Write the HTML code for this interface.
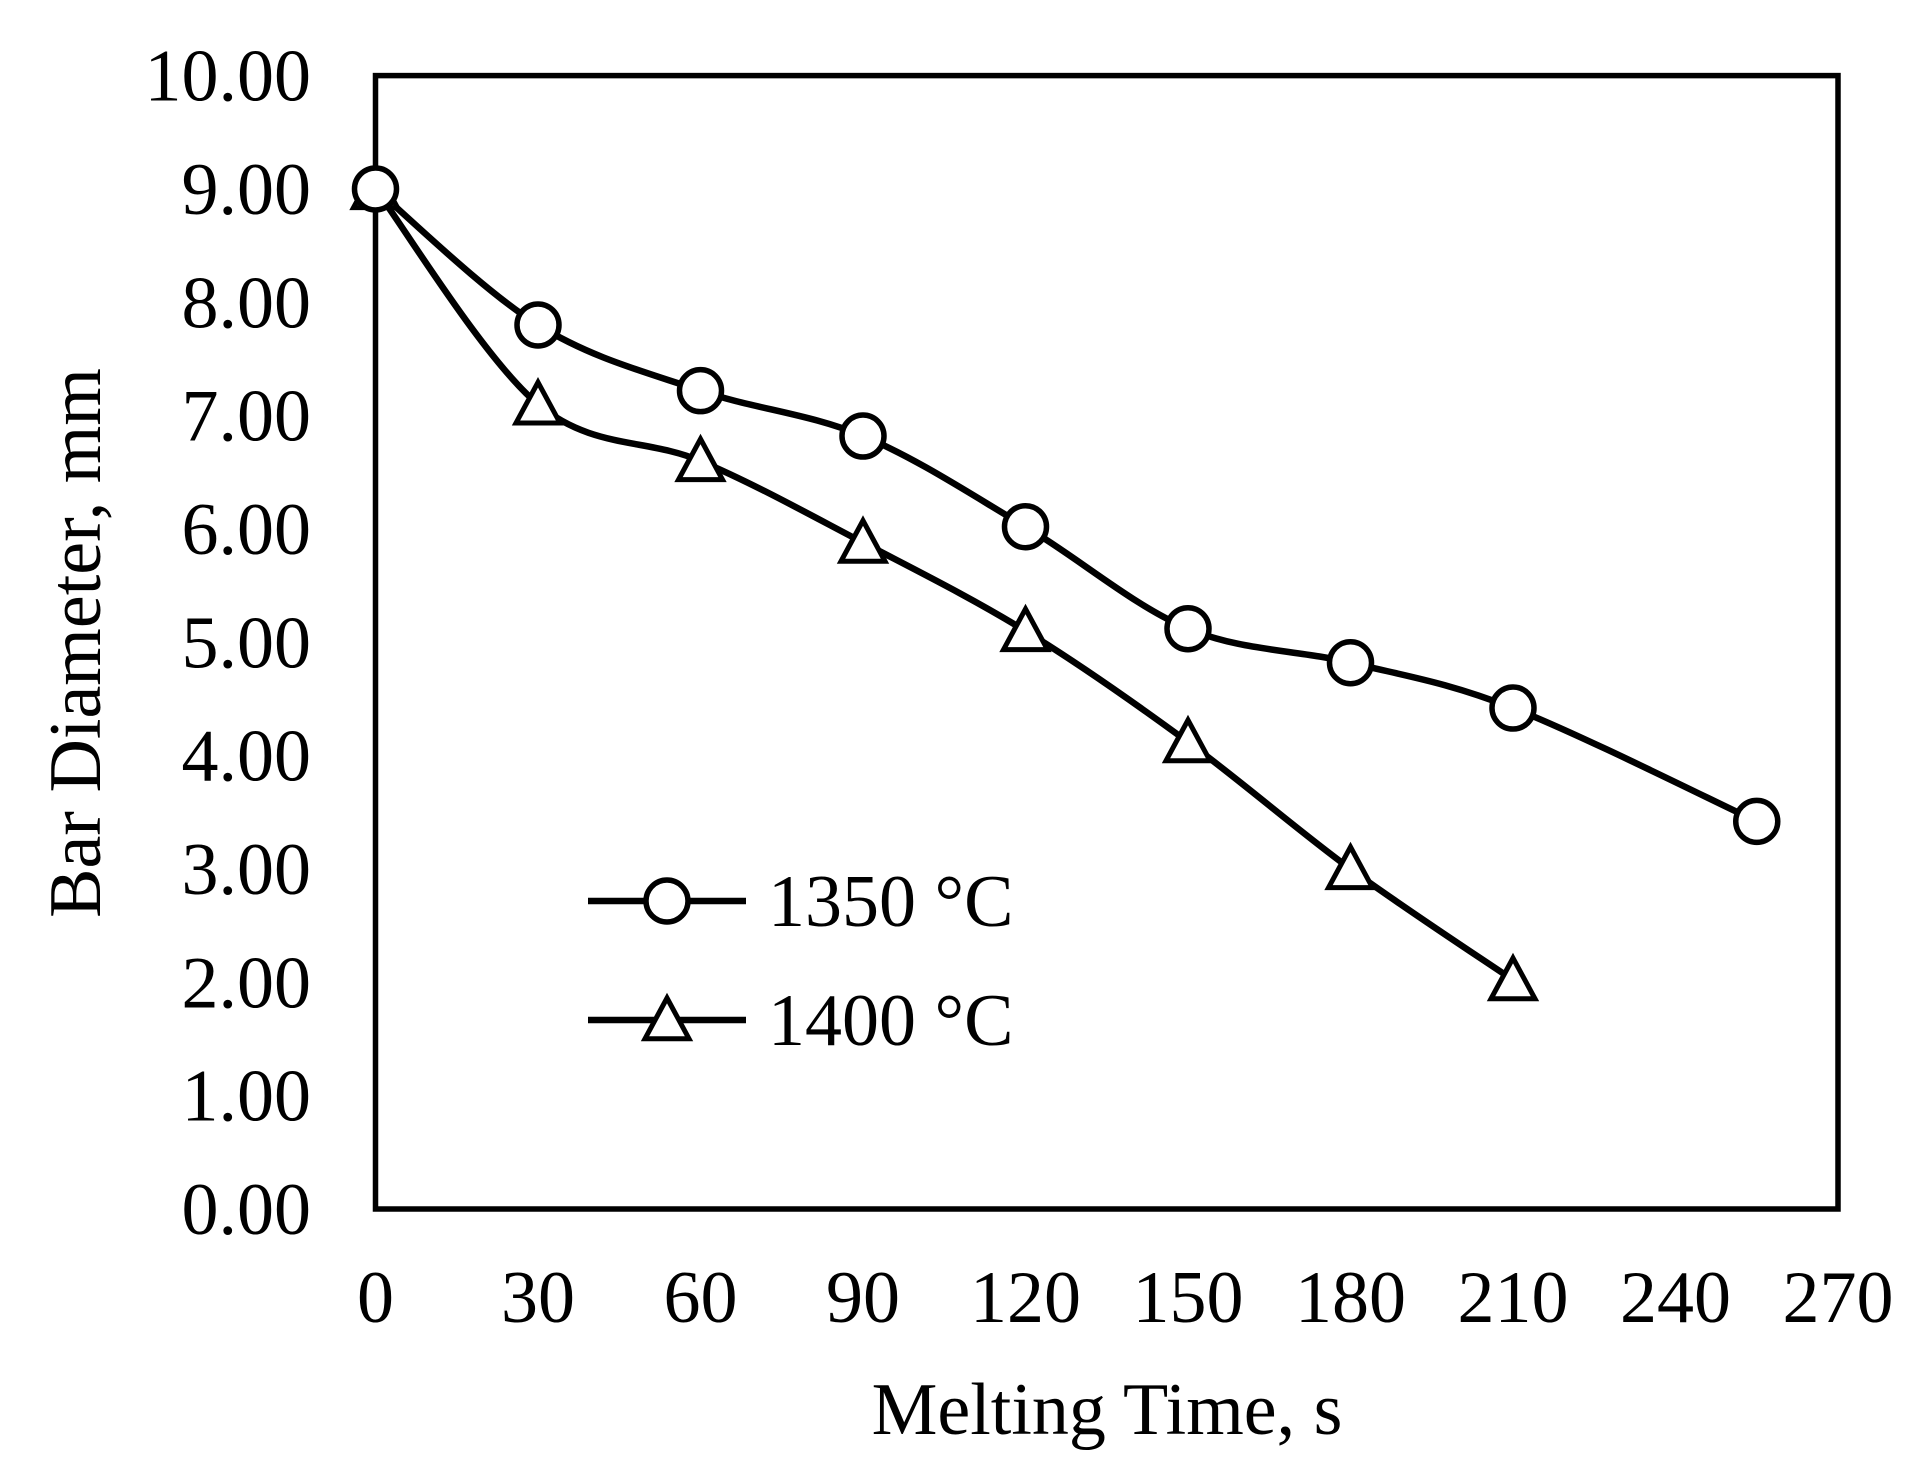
<!DOCTYPE html>
<html><head><meta charset="utf-8"><style>
html,body{margin:0;padding:0;background:#fff}
svg{display:block}
text{font-family:"Liberation Serif",serif;fill:#000}
</style></head><body>
<svg id="chart" width="1908" height="1467" viewBox="0 0 1908 1467" xmlns="http://www.w3.org/2000/svg">
<g id="axes"></g>
<g id="series"></g>
<g id="legend"></g>
</svg>
<script>
const xTicks = [0,30,60,90,120,150,180,210,240,270];
const yTicks = [0,1,2,3,4,5,6,7,8,9,10];
const times1350 = [0,30,60,90,120,150,180,210,255];
const dia1350 = [9.0,7.8,7.22,6.82,6.02,5.12,4.82,4.42,3.42];
const times1400 = [0,30,60,90,120,150,180,210];
const dia1400 = [9.0,7.1,6.6,5.88,5.1,4.12,3.0,2.02];
const seriesNames = ["1350 °C","1400 °C"];

const L=375.5,R=1838,T=75.6,B=1209;
const xMin=0,xMax=270,yMin=0,yMax=10;
const sx=v=>L+(v-xMin)/(xMax-xMin)*(R-L);
const sy=v=>B-(v-yMin)/(yMax-yMin)*(B-T);
const NS="http://www.w3.org/2000/svg";
function mk(tag,attrs,parent){const e=document.createElementNS(NS,tag);for(const k in attrs)e.setAttribute(k,attrs[k]);parent.appendChild(e);return e;}
const axes=document.getElementById('axes'),ser=document.getElementById('series'),leg=document.getElementById('legend');

let frame=mk('rect',{x:L,y:T,width:R-L,height:B-T,fill:'none',stroke:'#000','stroke-width':5.5},axes);



yTicks.forEach(v=>{
  const t=mk('text',{x:311,y:sy(v)+25,'text-anchor':'end','font-size':74},axes);
  t.textContent=v.toFixed(2);
  
  
});
xTicks.forEach(v=>{
  const t=mk('text',{x:sx(v),y:1322,'text-anchor':'middle','font-size':74},axes);
  t.textContent=String(v);
  
  
});
let xt=mk('text',{x:1107,y:1434,'text-anchor':'middle','font-size':74},axes);
xt.textContent='Melting Time, s';


let yt=mk('text',{x:0,y:0,'text-anchor':'middle','font-size':74,transform:'translate(100,643) rotate(-90)'},axes);
yt.textContent='Bar Diameter, mm';



function spline(pts){
  let d=`M${pts[0][0]},${pts[0][1]}`;
  for(let i=0;i<pts.length-1;i++){
    const p0=pts[Math.max(i-1,0)],p1=pts[i],p2=pts[i+1],p3=pts[Math.min(i+2,pts.length-1)];
    const c1=[p1[0]+(p2[0]-p0[0])/6,p1[1]+(p2[1]-p0[1])/6];
    const c2=[p2[0]-(p3[0]-p1[0])/6,p2[1]-(p3[1]-p1[1])/6];
    d+=` C${c1[0]},${c1[1]} ${c2[0]},${c2[1]} ${p2[0]},${p2[1]}`;
  }
  return d;
}
function circle(x,y,parent){return mk('circle',{cx:x,cy:y,r:21,fill:'#fff',stroke:'#000','stroke-width':5.5},parent);}
function tri(x,y,parent){const s=22;return mk('polygon',{points:`${x},${y-s} ${x+s},${y+s*0.85} ${x-s},${y+s*0.85}`,fill:'#fff',stroke:'#000','stroke-width':5,'stroke-linejoin':'miter'},parent);}

const p1400=times1400.map((t,i)=>[sx(t),sy(dia1400[i])]);
const p1350=times1350.map((t,i)=>[sx(t),sy(dia1350[i])]);
let l2=mk('path',{d:spline(p1400),fill:'none',stroke:'#000','stroke-width':6.5},ser);


let l1=mk('path',{d:spline(p1350),fill:'none',stroke:'#000','stroke-width':6.5},ser);


p1400.forEach(p=>{const m=tri(p[0],p[1],ser);
  
  });
p1350.forEach(p=>{const m=circle(p[0],p[1],ser);
  
  });

[[901,circle],[1020,tri]].forEach((e,i)=>{
  const g=mk('g',{},leg);
  
  
  mk('line',{x1:588,x2:746,y1:e[0],y2:e[0],stroke:'#000','stroke-width':6.5},g);
  e[1](667,e[0],g);
  const t=mk('text',{x:768,y:e[0]+25,'font-size':74},g);
  t.textContent=seriesNames[i];
});
</script>
</body></html>
